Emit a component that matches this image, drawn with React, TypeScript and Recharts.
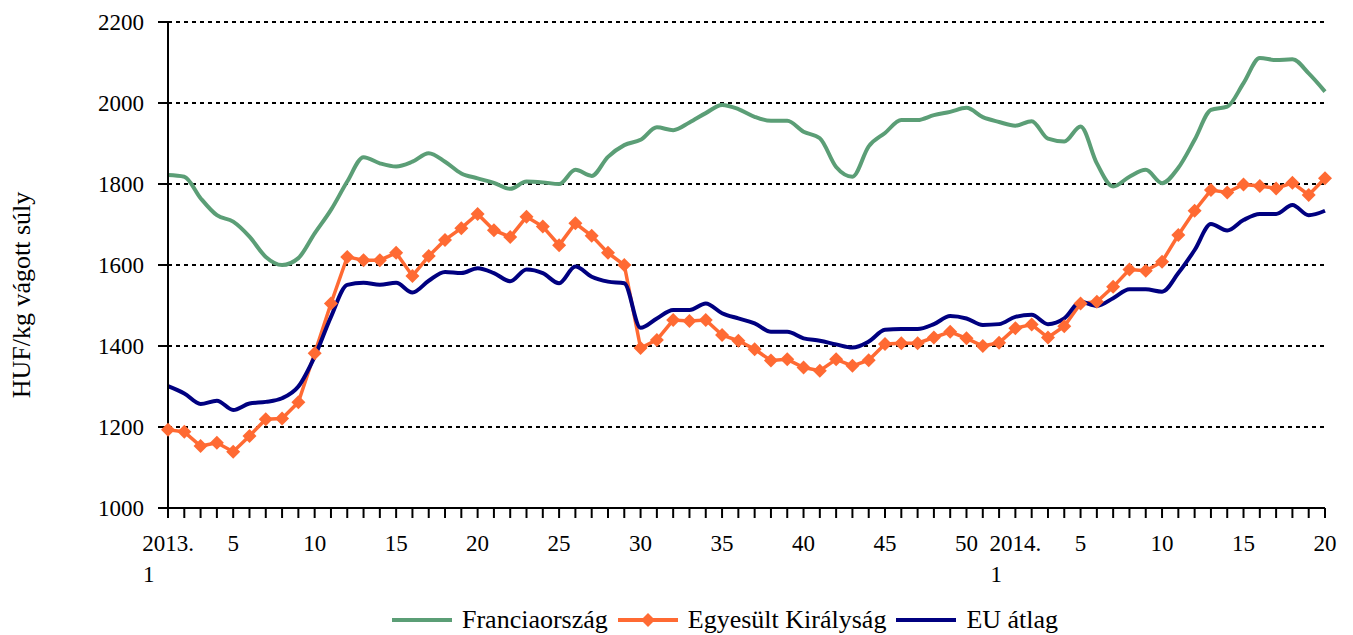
import React from 'react';
import { LineChart, Line, XAxis, YAxis, CartesianGrid } from 'recharts';

// weeks 2013/1 .. 2014/20
const weeks2013 = Array.from({ length: 52 }, (_, i) => `2013/${i + 1}`);
const weeks2014 = Array.from({ length: 20 }, (_, i) => `2014/${i + 1}`);
const categories = [...weeks2013, ...weeks2014];

const tickLabels: Record<string, string[]> = {
  '2013/1': ['2013.', '1'],
  '2013/5': ['5'],
  '2013/10': ['10'],
  '2013/15': ['15'],
  '2013/20': ['20'],
  '2013/25': ['25'],
  '2013/30': ['30'],
  '2013/35': ['35'],
  '2013/40': ['40'],
  '2013/45': ['45'],
  '2013/50': ['50'],
  '2014/1': ['2014.', '1'],
  '2014/5': ['5'],
  '2014/10': ['10'],
  '2014/15': ['15'],
  '2014/20': ['20'],
};

const yTicks = [1000, 1200, 1400, 1600, 1800, 2000, 2200];

const franceValues = [
  1822, 1818, 1765, 1723, 1707, 1670, 1620, 1600, 1617, 1678,
  1736, 1806, 1866, 1851, 1843, 1855, 1876, 1855, 1826, 1814,
  1803, 1788, 1806, 1804, 1800, 1835, 1820, 1867, 1896, 1909,
  1940, 1933, 1952, 1975, 1995, 1985, 1966, 1956, 1956, 1929,
  1913, 1842, 1818, 1893, 1926, 1958, 1958, 1970, 1978, 1988,
  1965, 1953, 1944, 1955, 1912, 1905, 1942, 1851, 1794, 1818,
  1835, 1802, 1840, 1909, 1983, 1991, 2049, 2111, 2106, 2108,
  2073, 2028,
];

const ukValues = [
  1193, 1188, 1153, 1161, 1139, 1178, 1219, 1221, 1261, 1382,
  1505, 1620, 1612, 1612, 1630, 1573, 1622, 1662, 1691, 1726,
  1686, 1669, 1719, 1695, 1649, 1703, 1672, 1630, 1600, 1395,
  1415, 1464, 1462, 1464, 1427, 1413, 1392, 1364, 1367, 1347,
  1339, 1367, 1351, 1365, 1405, 1407, 1407, 1421, 1435, 1419,
  1400, 1408, 1444, 1453, 1421, 1449, 1505, 1509, 1546, 1589,
  1586, 1608, 1674, 1734, 1785, 1779, 1799, 1795, 1789, 1803,
  1773, 1814,
];

const euValues = [
  1301, 1283, 1257, 1265, 1242, 1258, 1262, 1271, 1300, 1374,
  1472, 1551, 1556, 1551, 1556, 1532, 1561, 1583, 1580, 1592,
  1580, 1560, 1589, 1580, 1555, 1596, 1571, 1559, 1555, 1445,
  1468, 1489, 1489, 1505, 1481, 1468, 1456, 1435, 1435, 1419,
  1413, 1404, 1396, 1411, 1440, 1442, 1442, 1454, 1474, 1468,
  1452, 1454, 1472, 1477, 1454, 1468, 1509, 1499, 1518, 1540,
  1540, 1534, 1580, 1637, 1701, 1685, 1711, 1726, 1726, 1748,
  1723, 1734,
];

const data = categories.map((week, i) => ({
  week,
  france: franceValues[i],
  uk: ukValues[i],
  eu: euValues[i],
}));

const FONT = '"Liberation Serif", "Times New Roman", serif';
const GREEN = '#5b9e76';
const ORANGE = '#ff6a33';
const NAVY = '#000080';

const Diamond = (props: any) => {
  const { cx, cy, index } = props;
  if (cx == null || cy == null) return null;
  const r = 7;
  return (
    <polygon
      key={`d-${index}`}
      points={`${cx},${cy - r} ${cx + r},${cy} ${cx},${cy + r} ${cx - r},${cy}`}
      fill={ORANGE}
    />
  );
};

const WeekTick = (props: any) => {
  const { x, y, payload } = props;
  const lines = tickLabels[payload.value];
  if (!lines) return null;
  if (lines.length === 1) {
    return (
      <text x={x} y={y + 31} textAnchor="middle" fontFamily={FONT} fontSize={23} fill="#000">
        {lines[0]}
      </text>
    );
  }
  return (
    <g>
      <text x={x} y={y + 31} textAnchor="middle" fontFamily={FONT} fontSize={23} fill="#000">
        {lines[0]}
      </text>
      <text x={x - 25} y={y + 62} textAnchor="start" fontFamily={FONT} fontSize={23} fill="#000">
        {lines[1]}
      </text>
    </g>
  );
};

const legendItems = [
  { name: 'Franciaország', color: GREEN, marker: false },
  { name: 'Egyesült Királyság', color: ORANGE, marker: true },
  { name: 'EU átlag', color: NAVY, marker: false },
];

export default function App() {
  return (
    <div style={{ position: 'absolute', left: 0, top: 0, width: 1353, height: 635, background: '#fff' }}>
      <LineChart
        width={1353}
        height={635}
        data={data}
        margin={{ top: 22, right: 28, bottom: 0, left: 0 }}
      >
        <CartesianGrid
          vertical={false}
          stroke="#000"
          strokeWidth={2}
          strokeDasharray="4 4"
        />
        <XAxis
          dataKey="week"
          interval={0}
          height={127}
          tickSize={10}
          tick={<WeekTick />}
          axisLine={{ stroke: '#000', strokeWidth: 2 }}
          tickLine={{ stroke: '#000', strokeWidth: 2 }}
        />
        <YAxis
          width={168}
          domain={[1000, 2200]}
          ticks={yTicks}
          tickSize={10}
          tickMargin={14}
          axisLine={{ stroke: '#000', strokeWidth: 2 }}
          tickLine={{ stroke: '#000', strokeWidth: 2 }}
          tick={{ fill: '#000', fontFamily: FONT, fontSize: 23 }}
          label={{
            content: () => (
              <text
                x={30}
                y={295}
                transform="rotate(-90 30 295)"
                textAnchor="middle"
                fontFamily={FONT}
                fontSize={26}
                fill="#000"
              >
                HUF/kg vágott súly
              </text>
            ),
          }}
        />
        <Line
          dataKey="france"
          type="monotone"
          stroke={GREEN}
          strokeWidth={4}
          dot={false}
          isAnimationActive={false}
        />
        <Line
          dataKey="uk"
          type="linear"
          stroke={ORANGE}
          strokeWidth={3.5}
          dot={<Diamond />}
          isAnimationActive={false}
        />
        <Line
          dataKey="eu"
          type="monotone"
          stroke={NAVY}
          strokeWidth={4}
          dot={false}
          isAnimationActive={false}
        />
      </LineChart>
      <div
        style={{
          position: 'absolute',
          left: 392,
          top: 605,
          display: 'flex',
          alignItems: 'center',
          fontFamily: FONT,
          fontSize: 26,
          color: '#000',
          whiteSpace: 'nowrap',
        }}
      >
        {legendItems.map((item) => (
          <div key={item.name} style={{ display: 'flex', alignItems: 'center', marginRight: 10 }}>
            <svg width={60} height={16} style={{ marginRight: 10 }}>
              <line x1={0} y1={8} x2={60} y2={8} stroke={item.color} strokeWidth={4} />
              {item.marker && <polygon points="30,1 37,8 30,15 23,8" fill={item.color} />}
            </svg>
            <span>{item.name}</span>
          </div>
        ))}
      </div>
    </div>
  );
}
